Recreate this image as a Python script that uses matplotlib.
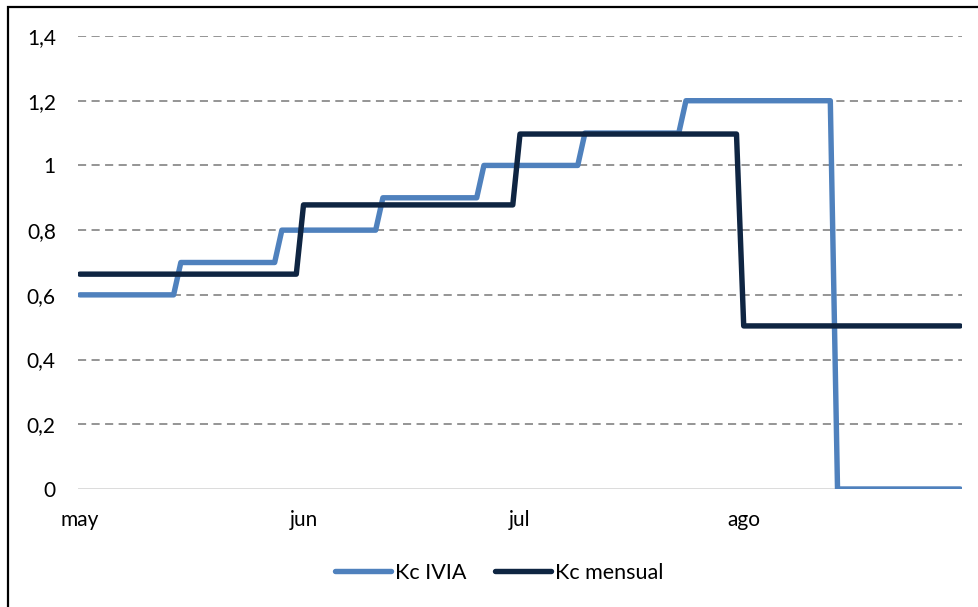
import numpy as np
import pandas as pd
import matplotlib
matplotlib.use("Agg")
import matplotlib.pyplot as plt
from matplotlib.patches import Rectangle

# Datos (mayo - agosto, diario)
fecha_inicio = "2023-05-01"
fecha_fin = "2023-08-31"

# Kc IVIA: tramos (valor, dias)
kc_ivia_valores = [0.6, 0.7, 0.8, 0.9, 1.0, 1.1, 1.2, 0.0]
kc_ivia_dias = [14, 14, 14, 14, 14, 14, 21, 18]

# Kc mensual: un valor por mes
kc_mensual_valores = [0.664, 0.878, 1.097, 0.504]
kc_mensual_dias = [31, 30, 31, 31]

meses = ["may", "jun", "jul", "ago"]
meses_ticks = ["2023-05-01", "2023-06-01", "2023-07-01", "2023-08-01"]

fechas = pd.date_range(fecha_inicio, fecha_fin, freq="D")
kc_ivia = np.repeat(kc_ivia_valores, kc_ivia_dias)
kc_mensual = np.repeat(kc_mensual_valores, kc_mensual_dias)

plt.rcParams['font.family'] = ['Lato', 'DejaVu Sans']

fig = plt.figure(figsize=(9.79, 6.07), dpi=100)
ax = fig.add_axes([78 / 979, 1 - 489 / 607, (962 - 78) / 979, (489 - 36) / 607])

# Marco del grafico
fig.patches.append(Rectangle((8 / 979, -0.05), 1.1, 1 - 7 / 607 + 0.05,
                             transform=fig.transFigure, fill=False,
                             edgecolor="black", linewidth=1.6))

for y in [0.2, 0.4, 0.6, 0.8, 1.0, 1.2, 1.4]:
    ax.axhline(y, color="#8c8c8c", linewidth=1.3, linestyle=(0, (4.5, 3.0)), zorder=1)
ax.axhline(0, color="#d9d9d9", linewidth=1.3, zorder=1)

ax.plot(fechas, kc_ivia, color="#4f81bd", linewidth=3.9, solid_capstyle="round",
        solid_joinstyle="round", label="Kc IVIA", zorder=3)
ax.plot(fechas, kc_mensual, color="#0f2542", linewidth=3.9, solid_capstyle="round",
        solid_joinstyle="round", label="Kc mensual", zorder=4)

pad = pd.Timedelta(hours=6)
ax.set_xlim(fechas[0] - pad, fechas[-1] + pad)
ax.set_ylim(0, 1.4)

ax.set_yticks([0, 0.2, 0.4, 0.6, 0.8, 1.0, 1.2, 1.4])
ax.set_yticklabels(["0", "0,2", "0,4", "0,6", "0,8", "1", "1,2", "1,4"], fontsize=15)
ax.set_xticks(pd.to_datetime(meses_ticks))
ax.set_xticklabels(meses, fontsize=15)
ax.tick_params(axis="both", length=0, colors="#000000")
ax.tick_params(axis="y", pad=16)
ax.tick_params(axis="x", pad=15)

for s in ax.spines.values():
    s.set_visible(False)

ax.legend(loc="center", bbox_to_anchor=(0.51, (607 - 573) / 607), bbox_transform=fig.transFigure,
          ncol=2, frameon=False, fontsize=15.5, handlelength=2.6, handletextpad=0.2,
          columnspacing=1.3)

fig.savefig("out.png", dpi=100)
